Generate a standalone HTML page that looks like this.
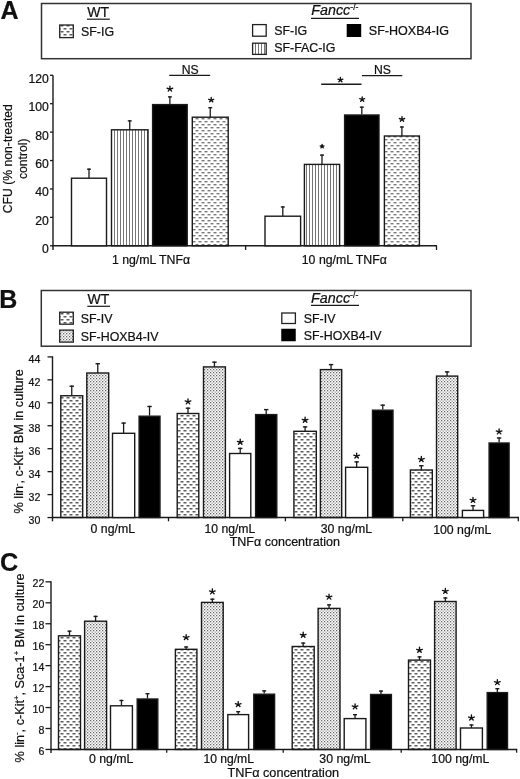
<!DOCTYPE html><html><head><meta charset="utf-8"><style>html,body{margin:0;padding:0;background:#fff;width:520px;height:779px;overflow:hidden}svg{display:block;filter:grayscale(1)}text{font-family:"Liberation Sans",sans-serif;fill:#111;stroke:#111;stroke-width:0.22px}</style></head><body>
<svg width="520" height="779" viewBox="0 0 520 779">
<defs>
<pattern id="dash" width="6" height="6" patternUnits="userSpaceOnUse" x="0" y="0">
<rect x="0.5" y="1" width="3" height="1.5" fill="#5e5e5e"/><rect x="3.5" y="4" width="3" height="1.5" fill="#5e5e5e"/><rect x="-2.5" y="4" width="3" height="1.5" fill="#5e5e5e"/>
</pattern>
<pattern id="dashA" width="6" height="6" patternUnits="userSpaceOnUse" x="0" y="0">
<rect x="0.5" y="1" width="3" height="1.4" fill="#7a7a7a"/><rect x="3.5" y="4" width="3" height="1.4" fill="#7a7a7a"/><rect x="-2.5" y="4" width="3" height="1.4" fill="#7a7a7a"/>
</pattern>
<pattern id="vs" width="3" height="3" patternUnits="userSpaceOnUse">
<rect x="0" y="0" width="1" height="3" fill="#777"/>
</pattern>
<pattern id="stip" width="3" height="3" patternUnits="userSpaceOnUse">
<rect x="0" y="0" width="1.3" height="1.3" fill="#666"/><rect x="1.5" y="1.5" width="1.3" height="1.3" fill="#959595"/>
</pattern>
</defs>
<rect width="520" height="779" fill="#fff"/>
<text x="0.4" y="19.2" font-size="25" text-anchor="start" font-weight="bold">A</text>
<rect x="41.5" y="3.5" width="429.5" height="55.2" fill="none" stroke="#333" stroke-width="1.5"/>
<text x="87.3" y="16.9" font-size="14" text-anchor="start" >WT</text>
<line x1="87" y1="19.2" x2="109.8" y2="19.2" stroke="#1a1a1a" stroke-width="1.2"/>
<rect x="59.7" y="25" width="13.6" height="12.6" fill="url(#dash)" stroke="#222" stroke-width="1.3"/>
<text x="81" y="36.2" font-size="12.4" text-anchor="start" >SF-IG</text>
<text x="311.3" y="15.3" font-size="14.3" text-anchor="start" ><tspan font-style="italic">Fancc</tspan><tspan font-size="8.8" dy="-5.2">-/-</tspan></text>
<line x1="311" y1="18.3" x2="359" y2="18.3" stroke="#1a1a1a" stroke-width="1.2"/>
<rect x="252.6" y="24.6" width="13.6" height="11.6" fill="#fff" stroke="#222" stroke-width="1.3"/>
<text x="274.2" y="34.8" font-size="12.4" text-anchor="start" >SF-IG</text>
<rect x="252.6" y="43.2" width="13.6" height="11.2" fill="url(#vs)" stroke="#222" stroke-width="1.3"/>
<text x="274.2" y="52.4" font-size="12.4" text-anchor="start" >SF-FAC-IG</text>
<rect x="346.7" y="24" width="14.5" height="13" fill="#000"/>
<text x="368.8" y="35" font-size="12.55" text-anchor="start" >SF-HOXB4-IG</text>
<line x1="53" y1="75.2" x2="53" y2="250" stroke="#1a1a1a" stroke-width="1.4"/>
<line x1="52.3" y1="245.8" x2="437" y2="245.8" stroke="#1a1a1a" stroke-width="1.4"/>
<line x1="50" y1="245.8" x2="53" y2="245.8" stroke="#1a1a1a" stroke-width="1.3"/>
<text x="48.9" y="253.20000000000002" font-size="12.2" text-anchor="end" >0</text>
<line x1="50" y1="217.38" x2="53" y2="217.38" stroke="#1a1a1a" stroke-width="1.3"/>
<text x="48.9" y="224.78" font-size="12.2" text-anchor="end" >20</text>
<line x1="50" y1="188.96" x2="53" y2="188.96" stroke="#1a1a1a" stroke-width="1.3"/>
<text x="48.9" y="196.36" font-size="12.2" text-anchor="end" >40</text>
<line x1="50" y1="160.54000000000002" x2="53" y2="160.54000000000002" stroke="#1a1a1a" stroke-width="1.3"/>
<text x="48.9" y="167.94000000000003" font-size="12.2" text-anchor="end" >60</text>
<line x1="50" y1="132.12" x2="53" y2="132.12" stroke="#1a1a1a" stroke-width="1.3"/>
<text x="48.9" y="139.52" font-size="12.2" text-anchor="end" >80</text>
<line x1="50" y1="103.69999999999999" x2="53" y2="103.69999999999999" stroke="#1a1a1a" stroke-width="1.3"/>
<text x="48.9" y="111.1" font-size="12.2" text-anchor="end" >100</text>
<line x1="50" y1="75.28" x2="53" y2="75.28" stroke="#1a1a1a" stroke-width="1.3"/>
<text x="48.9" y="82.68" font-size="12.2" text-anchor="end" >120</text>
<line x1="245.6" y1="245.8" x2="245.6" y2="250" stroke="#1a1a1a" stroke-width="1.3"/>
<line x1="436.5" y1="245.8" x2="436.5" y2="250" stroke="#1a1a1a" stroke-width="1.3"/>
<rect x="71.50" y="178.20" width="35.00" height="67.60" fill="#fff" stroke="#1a1a1a" stroke-width="1.4"/>
<line x1="89.0" y1="168.5" x2="89.0" y2="178.2" stroke="#1a1a1a" stroke-width="1.3"/>
<line x1="87.1" y1="169.2" x2="90.9" y2="169.2" stroke="#1a1a1a" stroke-width="1.4"/>
<rect x="111.50" y="129.80" width="36.50" height="116.00" fill="url(#vs)" stroke="#1a1a1a" stroke-width="1.4"/>
<line x1="129.75" y1="120.2" x2="129.75" y2="129.8" stroke="#1a1a1a" stroke-width="1.3"/>
<line x1="127.8" y1="120.9" x2="131.7" y2="120.9" stroke="#1a1a1a" stroke-width="1.4"/>
<rect x="152.60" y="104.60" width="34.60" height="141.20" fill="#000" stroke="#1a1a1a" stroke-width="1.4"/>
<line x1="169.9" y1="96.2" x2="169.9" y2="104" stroke="#1a1a1a" stroke-width="1.3"/>
<line x1="167.95000000000002" y1="96.9" x2="171.85" y2="96.9" stroke="#1a1a1a" stroke-width="1.4"/>
<path d="M169.90,89.16L169.90,86.25M169.90,89.16L172.66,88.26M169.90,89.16L171.60,91.08M169.90,89.16L168.20,91.08M169.90,89.16L167.14,88.26" stroke="#111" stroke-width="1.35" stroke-linecap="round" fill="none"/>
<rect x="192.30" y="117.20" width="35.90" height="128.60" fill="url(#dashA)" stroke="#1a1a1a" stroke-width="1.4"/>
<line x1="210.25" y1="107" x2="210.25" y2="117.2" stroke="#1a1a1a" stroke-width="1.3"/>
<line x1="208.3" y1="107.7" x2="212.2" y2="107.7" stroke="#1a1a1a" stroke-width="1.4"/>
<path d="M211.20,100.07L211.20,97.47M211.20,100.07L213.67,99.27M211.20,100.07L212.73,101.79M211.20,100.07L209.67,101.79M211.20,100.07L208.73,99.27" stroke="#111" stroke-width="1.35" stroke-linecap="round" fill="none"/>
<rect x="265.00" y="216.20" width="35.60" height="29.60" fill="#fff" stroke="#1a1a1a" stroke-width="1.4"/>
<line x1="282.8" y1="206.3" x2="282.8" y2="216.2" stroke="#1a1a1a" stroke-width="1.3"/>
<line x1="280.85" y1="207.0" x2="284.75" y2="207.0" stroke="#1a1a1a" stroke-width="1.4"/>
<rect x="304.40" y="164.40" width="35.20" height="81.40" fill="url(#vs)" stroke="#1a1a1a" stroke-width="1.4"/>
<line x1="322.0" y1="154.4" x2="322.0" y2="164.4" stroke="#1a1a1a" stroke-width="1.3"/>
<line x1="320.05" y1="155.1" x2="323.95" y2="155.1" stroke="#1a1a1a" stroke-width="1.4"/>
<path d="M322.10,146.50L322.10,144.50M322.10,146.50L324.00,145.88M322.10,146.50L323.28,147.83M322.10,146.50L320.92,147.83M322.10,146.50L320.20,145.88" stroke="#111" stroke-width="1.35" stroke-linecap="round" fill="none"/>
<rect x="344.60" y="115.00" width="34.40" height="130.80" fill="#000" stroke="#1a1a1a" stroke-width="1.4"/>
<line x1="361.8" y1="106.5" x2="361.8" y2="114.4" stroke="#1a1a1a" stroke-width="1.3"/>
<line x1="359.85" y1="107.2" x2="363.75" y2="107.2" stroke="#1a1a1a" stroke-width="1.4"/>
<path d="M362.20,99.47L362.20,96.87M362.20,99.47L364.67,98.67M362.20,99.47L363.73,101.19M362.20,99.47L360.67,101.19M362.20,99.47L359.73,98.67" stroke="#111" stroke-width="1.35" stroke-linecap="round" fill="none"/>
<rect x="384.40" y="136.00" width="35.00" height="109.80" fill="url(#dashA)" stroke="#1a1a1a" stroke-width="1.4"/>
<line x1="401.9" y1="126.3" x2="401.9" y2="136" stroke="#1a1a1a" stroke-width="1.3"/>
<line x1="399.95" y1="127.0" x2="403.84999999999997" y2="127.0" stroke="#1a1a1a" stroke-width="1.4"/>
<path d="M402.00,119.36L402.00,116.56M402.00,119.36L404.66,118.49M402.00,119.36L403.65,121.22M402.00,119.36L400.35,121.22M402.00,119.36L399.34,118.49" stroke="#111" stroke-width="1.35" stroke-linecap="round" fill="none"/>
<line x1="169.2" y1="75.4" x2="210.2" y2="75.4" stroke="#1a1a1a" stroke-width="1.4"/>
<text x="190.2" y="73.8" font-size="12.2" text-anchor="middle" >NS</text>
<line x1="321.2" y1="84.2" x2="361.5" y2="84.2" stroke="#1a1a1a" stroke-width="1.4"/>
<path d="M340.40,79.97L340.40,77.37M340.40,79.97L342.87,79.17M340.40,79.97L341.93,81.69M340.40,79.97L338.87,81.69M340.40,79.97L337.93,79.17" stroke="#111" stroke-width="1.35" stroke-linecap="round" fill="none"/>
<line x1="362" y1="75.6" x2="402.3" y2="75.6" stroke="#1a1a1a" stroke-width="1.4"/>
<text x="382.5" y="73.8" font-size="12.2" text-anchor="middle" >NS</text>
<text x="151" y="264.2" font-size="12.3" text-anchor="middle" >1 ng/mL TNFα</text>
<text x="344.3" y="264.2" font-size="12.3" text-anchor="middle" >10 ng/mL TNFα</text>
<text transform="translate(12.2,158.7) rotate(-90)" font-size="12.2" text-anchor="middle">CFU (% non-treated</text>
<text transform="translate(26.8,158.8) rotate(-90)" font-size="12.2" text-anchor="middle">control)</text>
<text x="-0.8" y="307.6" font-size="25" text-anchor="start" font-weight="bold">B</text>
<rect x="41.3" y="290.5" width="429.7" height="55.7" fill="none" stroke="#333" stroke-width="1.5"/>
<text x="87.5" y="303.75" font-size="14" text-anchor="start" >WT</text>
<line x1="87.3" y1="306.3" x2="110" y2="306.3" stroke="#1a1a1a" stroke-width="1.2"/>
<rect x="59.7" y="312.2" width="13.6" height="12" fill="url(#dash)" stroke="#222" stroke-width="1.3"/>
<text x="80.75" y="323.25" font-size="12.4" text-anchor="start" >SF-IV</text>
<rect x="59.7" y="330.1" width="13.6" height="12" fill="url(#stip)" stroke="#222" stroke-width="1.3"/>
<text x="80.75" y="340.5" font-size="12.4" text-anchor="start" >SF-HOXB4-IV</text>
<text x="311.1" y="303.1" font-size="14.3" text-anchor="start" ><tspan font-style="italic">Fancc</tspan><tspan font-size="8.8" dy="-5.2">-/-</tspan></text>
<line x1="311" y1="305.3" x2="359" y2="305.3" stroke="#1a1a1a" stroke-width="1.2"/>
<rect x="281.8" y="313" width="13.6" height="10.5" fill="#fff" stroke="#222" stroke-width="1.3"/>
<text x="303.75" y="322.5" font-size="12.4" text-anchor="start" >SF-IV</text>
<rect x="281.25" y="328.75" width="14.5" height="12.5" fill="#000"/>
<text x="303.75" y="340" font-size="12.4" text-anchor="start" >SF-HOXB4-IV</text>
<line x1="52.5" y1="356.3" x2="52.5" y2="521.3" stroke="#1a1a1a" stroke-width="1.4"/>
<line x1="51.8" y1="517.55" x2="519" y2="517.55" stroke="#1a1a1a" stroke-width="1.4"/>
<line x1="47.5" y1="517.55" x2="52.5" y2="517.55" stroke="#1a1a1a" stroke-width="1.3"/>
<text x="40.3" y="523.8499999999999" font-size="10.6" text-anchor="end" >30</text>
<line x1="47.5" y1="494.59999999999997" x2="52.5" y2="494.59999999999997" stroke="#1a1a1a" stroke-width="1.3"/>
<text x="40.3" y="500.9" font-size="10.6" text-anchor="end" >32</text>
<line x1="47.5" y1="471.65" x2="52.5" y2="471.65" stroke="#1a1a1a" stroke-width="1.3"/>
<text x="40.3" y="477.95" font-size="10.6" text-anchor="end" >34</text>
<line x1="47.5" y1="448.69999999999993" x2="52.5" y2="448.69999999999993" stroke="#1a1a1a" stroke-width="1.3"/>
<text x="40.3" y="454.99999999999994" font-size="10.6" text-anchor="end" >36</text>
<line x1="47.5" y1="425.74999999999994" x2="52.5" y2="425.74999999999994" stroke="#1a1a1a" stroke-width="1.3"/>
<text x="40.3" y="432.04999999999995" font-size="10.6" text-anchor="end" >38</text>
<line x1="47.5" y1="402.79999999999995" x2="52.5" y2="402.79999999999995" stroke="#1a1a1a" stroke-width="1.3"/>
<text x="40.3" y="409.09999999999997" font-size="10.6" text-anchor="end" >40</text>
<line x1="47.5" y1="379.84999999999997" x2="52.5" y2="379.84999999999997" stroke="#1a1a1a" stroke-width="1.3"/>
<text x="40.3" y="386.15" font-size="10.6" text-anchor="end" >42</text>
<line x1="47.5" y1="356.9" x2="52.5" y2="356.9" stroke="#1a1a1a" stroke-width="1.3"/>
<text x="40.3" y="363.2" font-size="10.6" text-anchor="end" >44</text>
<line x1="168.5" y1="517.55" x2="168.5" y2="521.3" stroke="#1a1a1a" stroke-width="1.3"/>
<line x1="285.4" y1="517.55" x2="285.4" y2="521.3" stroke="#1a1a1a" stroke-width="1.3"/>
<line x1="402.8" y1="517.55" x2="402.8" y2="521.3" stroke="#1a1a1a" stroke-width="1.3"/>
<line x1="518.3" y1="517.55" x2="518.3" y2="521.3" stroke="#1a1a1a" stroke-width="1.3"/>
<rect x="60.80" y="395.75" width="21.90" height="121.80" fill="url(#dash)" stroke="#1a1a1a" stroke-width="1.4"/>
<line x1="71.75" y1="385.5" x2="71.75" y2="395.75" stroke="#1a1a1a" stroke-width="1.3"/>
<line x1="69.55" y1="386.2" x2="73.95" y2="386.2" stroke="#1a1a1a" stroke-width="1.4"/>
<rect x="86.80" y="373.00" width="21.90" height="144.55" fill="url(#stip)" stroke="#1a1a1a" stroke-width="1.4"/>
<line x1="97.75" y1="363" x2="97.75" y2="373" stroke="#1a1a1a" stroke-width="1.3"/>
<line x1="95.55" y1="363.7" x2="99.95" y2="363.7" stroke="#1a1a1a" stroke-width="1.4"/>
<rect x="112.50" y="433.30" width="22.20" height="84.25" fill="#fff" stroke="#1a1a1a" stroke-width="1.4"/>
<line x1="123.6" y1="422.4" x2="123.6" y2="433.3" stroke="#1a1a1a" stroke-width="1.3"/>
<line x1="121.39999999999999" y1="423.09999999999997" x2="125.8" y2="423.09999999999997" stroke="#1a1a1a" stroke-width="1.4"/>
<rect x="139.10" y="416.20" width="20.90" height="101.35" fill="#000" stroke="#1a1a1a" stroke-width="1.4"/>
<line x1="149.55" y1="405.8" x2="149.55" y2="415.6" stroke="#1a1a1a" stroke-width="1.3"/>
<line x1="147.35000000000002" y1="406.5" x2="151.75" y2="406.5" stroke="#1a1a1a" stroke-width="1.4"/>
<rect x="177.20" y="413.50" width="21.60" height="104.05" fill="url(#dash)" stroke="#1a1a1a" stroke-width="1.4"/>
<line x1="188.0" y1="407.5" x2="188.0" y2="413.5" stroke="#1a1a1a" stroke-width="1.3"/>
<line x1="185.8" y1="408.2" x2="190.2" y2="408.2" stroke="#1a1a1a" stroke-width="1.4"/>
<path d="M188.00,401.85L188.00,398.85M188.00,401.85L190.85,400.92M188.00,401.85L189.76,403.84M188.00,401.85L186.24,403.84M188.00,401.85L185.15,400.92" stroke="#111" stroke-width="1.35" stroke-linecap="round" fill="none"/>
<rect x="203.50" y="366.90" width="21.90" height="150.65" fill="url(#stip)" stroke="#1a1a1a" stroke-width="1.4"/>
<line x1="214.45" y1="361.5" x2="214.45" y2="366.9" stroke="#1a1a1a" stroke-width="1.3"/>
<line x1="212.25" y1="362.2" x2="216.64999999999998" y2="362.2" stroke="#1a1a1a" stroke-width="1.4"/>
<rect x="229.60" y="453.50" width="21.20" height="64.05" fill="#fff" stroke="#1a1a1a" stroke-width="1.4"/>
<line x1="240.2" y1="447.7" x2="240.2" y2="453.5" stroke="#1a1a1a" stroke-width="1.3"/>
<line x1="238.0" y1="448.4" x2="242.39999999999998" y2="448.4" stroke="#1a1a1a" stroke-width="1.4"/>
<path d="M240.20,442.25L240.20,439.25M240.20,442.25L243.05,441.32M240.20,442.25L241.96,444.24M240.20,442.25L238.44,444.24M240.20,442.25L237.35,441.32" stroke="#111" stroke-width="1.35" stroke-linecap="round" fill="none"/>
<rect x="255.60" y="414.60" width="21.20" height="102.95" fill="#000" stroke="#1a1a1a" stroke-width="1.4"/>
<line x1="266.2" y1="408.9" x2="266.2" y2="414" stroke="#1a1a1a" stroke-width="1.3"/>
<line x1="264.0" y1="409.59999999999997" x2="268.4" y2="409.59999999999997" stroke="#1a1a1a" stroke-width="1.4"/>
<rect x="293.90" y="431.30" width="22.40" height="86.25" fill="url(#dash)" stroke="#1a1a1a" stroke-width="1.4"/>
<line x1="305.1" y1="426.2" x2="305.1" y2="431.3" stroke="#1a1a1a" stroke-width="1.3"/>
<line x1="302.90000000000003" y1="426.9" x2="307.3" y2="426.9" stroke="#1a1a1a" stroke-width="1.4"/>
<path d="M305.10,420.25L305.10,417.25M305.10,420.25L307.95,419.32M305.10,420.25L306.86,422.24M305.10,420.25L303.34,422.24M305.10,420.25L302.25,419.32" stroke="#111" stroke-width="1.35" stroke-linecap="round" fill="none"/>
<rect x="320.40" y="369.60" width="21.30" height="147.95" fill="url(#stip)" stroke="#1a1a1a" stroke-width="1.4"/>
<line x1="331.04999999999995" y1="363.9" x2="331.04999999999995" y2="369.6" stroke="#1a1a1a" stroke-width="1.3"/>
<line x1="328.84999999999997" y1="364.59999999999997" x2="333.24999999999994" y2="364.59999999999997" stroke="#1a1a1a" stroke-width="1.4"/>
<rect x="345.60" y="467.30" width="22.10" height="50.25" fill="#fff" stroke="#1a1a1a" stroke-width="1.4"/>
<line x1="356.65" y1="461.2" x2="356.65" y2="467.3" stroke="#1a1a1a" stroke-width="1.3"/>
<line x1="354.45" y1="461.9" x2="358.84999999999997" y2="461.9" stroke="#1a1a1a" stroke-width="1.4"/>
<path d="M356.65,456.05L356.65,453.05M356.65,456.05L359.50,455.12M356.65,456.05L358.41,458.04M356.65,456.05L354.89,458.04M356.65,456.05L353.80,455.12" stroke="#111" stroke-width="1.35" stroke-linecap="round" fill="none"/>
<rect x="372.50" y="410.20" width="20.50" height="107.35" fill="#000" stroke="#1a1a1a" stroke-width="1.4"/>
<line x1="382.75" y1="404.5" x2="382.75" y2="409.6" stroke="#1a1a1a" stroke-width="1.3"/>
<line x1="380.55" y1="405.2" x2="384.95" y2="405.2" stroke="#1a1a1a" stroke-width="1.4"/>
<rect x="410.40" y="470.00" width="21.90" height="47.55" fill="url(#dash)" stroke="#1a1a1a" stroke-width="1.4"/>
<line x1="421.35" y1="465" x2="421.35" y2="470" stroke="#1a1a1a" stroke-width="1.3"/>
<line x1="419.15000000000003" y1="465.7" x2="423.55" y2="465.7" stroke="#1a1a1a" stroke-width="1.4"/>
<path d="M421.35,459.45L421.35,456.45M421.35,459.45L424.20,458.52M421.35,459.45L423.11,461.44M421.35,459.45L419.59,461.44M421.35,459.45L418.50,458.52" stroke="#111" stroke-width="1.35" stroke-linecap="round" fill="none"/>
<rect x="436.50" y="376.10" width="21.20" height="141.45" fill="url(#stip)" stroke="#1a1a1a" stroke-width="1.4"/>
<line x1="447.1" y1="371.2" x2="447.1" y2="376.1" stroke="#1a1a1a" stroke-width="1.3"/>
<line x1="444.90000000000003" y1="371.9" x2="449.3" y2="371.9" stroke="#1a1a1a" stroke-width="1.4"/>
<rect x="462.40" y="510.40" width="21.20" height="7.15" fill="#fff" stroke="#1a1a1a" stroke-width="1.4"/>
<line x1="473.0" y1="505.1" x2="473.0" y2="510.4" stroke="#1a1a1a" stroke-width="1.3"/>
<line x1="470.8" y1="505.8" x2="475.2" y2="505.8" stroke="#1a1a1a" stroke-width="1.4"/>
<path d="M473.00,500.35L473.00,497.35M473.00,500.35L475.85,499.42M473.00,500.35L474.76,502.34M473.00,500.35L471.24,502.34M473.00,500.35L470.15,499.42" stroke="#111" stroke-width="1.35" stroke-linecap="round" fill="none"/>
<rect x="489.10" y="443.00" width="20.00" height="74.55" fill="#000" stroke="#1a1a1a" stroke-width="1.4"/>
<line x1="499.1" y1="437.3" x2="499.1" y2="442.4" stroke="#1a1a1a" stroke-width="1.3"/>
<line x1="496.90000000000003" y1="438.0" x2="501.3" y2="438.0" stroke="#1a1a1a" stroke-width="1.4"/>
<path d="M499.10,431.85L499.10,428.85M499.10,431.85L501.95,430.92M499.10,431.85L500.86,433.84M499.10,431.85L497.34,433.84M499.10,431.85L496.25,430.92" stroke="#111" stroke-width="1.35" stroke-linecap="round" fill="none"/>
<text x="112.8" y="533.2" font-size="12.3" text-anchor="middle" >0 ng/mL</text>
<text x="229.9" y="533.1" font-size="12.2" text-anchor="middle" >10 ng/mL</text>
<text x="346.4" y="533.1" font-size="12.3" text-anchor="middle" >30 ng/mL</text>
<text x="462.2" y="533.6" font-size="12.3" text-anchor="middle" >100 ng/mL</text>
<text x="284.75" y="546.2" font-size="12.52" text-anchor="middle" >TNFα concentration</text>
<text transform="translate(23.2,441.3) rotate(-90)" font-size="12.7" text-anchor="middle">% lin<tspan font-size="7.5" dy="-4.5">-</tspan><tspan dy="4.5">, c-Kit</tspan><tspan font-size="7.5" dy="-4.5">+</tspan><tspan dy="4.5"> BM in culture</tspan></text>
<text x="0.1" y="570.6" font-size="25.3" text-anchor="start" font-weight="bold">C</text>
<line x1="51" y1="581.2" x2="51" y2="753" stroke="#1a1a1a" stroke-width="1.4"/>
<line x1="50.3" y1="749.45" x2="517.2" y2="749.45" stroke="#1a1a1a" stroke-width="1.4"/>
<line x1="45.5" y1="749.45" x2="51" y2="749.45" stroke="#1a1a1a" stroke-width="1.3"/>
<text x="44.4" y="754.95" font-size="10.6" text-anchor="end" >6</text>
<line x1="45.5" y1="728.5" x2="51" y2="728.5" stroke="#1a1a1a" stroke-width="1.3"/>
<text x="44.4" y="734.0" font-size="10.6" text-anchor="end" >8</text>
<line x1="45.5" y1="707.5500000000001" x2="51" y2="707.5500000000001" stroke="#1a1a1a" stroke-width="1.3"/>
<text x="44.4" y="713.0500000000001" font-size="10.6" text-anchor="end" >10</text>
<line x1="45.5" y1="686.6" x2="51" y2="686.6" stroke="#1a1a1a" stroke-width="1.3"/>
<text x="44.4" y="692.1" font-size="10.6" text-anchor="end" >12</text>
<line x1="45.5" y1="665.6500000000001" x2="51" y2="665.6500000000001" stroke="#1a1a1a" stroke-width="1.3"/>
<text x="44.4" y="671.1500000000001" font-size="10.6" text-anchor="end" >14</text>
<line x1="45.5" y1="644.7" x2="51" y2="644.7" stroke="#1a1a1a" stroke-width="1.3"/>
<text x="44.4" y="650.2" font-size="10.6" text-anchor="end" >16</text>
<line x1="45.5" y1="623.75" x2="51" y2="623.75" stroke="#1a1a1a" stroke-width="1.3"/>
<text x="44.4" y="629.25" font-size="10.6" text-anchor="end" >18</text>
<line x1="45.5" y1="602.8000000000001" x2="51" y2="602.8000000000001" stroke="#1a1a1a" stroke-width="1.3"/>
<text x="44.4" y="608.3000000000001" font-size="10.6" text-anchor="end" >20</text>
<line x1="45.5" y1="581.85" x2="51" y2="581.85" stroke="#1a1a1a" stroke-width="1.3"/>
<text x="44.4" y="587.35" font-size="10.6" text-anchor="end" >22</text>
<line x1="166.7" y1="749.45" x2="166.7" y2="752.7" stroke="#1a1a1a" stroke-width="1.3"/>
<line x1="283.2" y1="749.45" x2="283.2" y2="752.7" stroke="#1a1a1a" stroke-width="1.3"/>
<line x1="401.2" y1="749.45" x2="401.2" y2="752.7" stroke="#1a1a1a" stroke-width="1.3"/>
<line x1="516.6" y1="749.45" x2="516.6" y2="752.7" stroke="#1a1a1a" stroke-width="1.3"/>
<rect x="58.50" y="635.80" width="22.00" height="113.65" fill="url(#dash)" stroke="#1a1a1a" stroke-width="1.4"/>
<line x1="69.5" y1="630.5" x2="69.5" y2="635.8" stroke="#1a1a1a" stroke-width="1.3"/>
<line x1="67.5" y1="631.2" x2="71.5" y2="631.2" stroke="#1a1a1a" stroke-width="1.4"/>
<rect x="84.60" y="621.20" width="22.00" height="128.25" fill="url(#stip)" stroke="#1a1a1a" stroke-width="1.4"/>
<line x1="95.6" y1="615.7" x2="95.6" y2="621.2" stroke="#1a1a1a" stroke-width="1.3"/>
<line x1="93.6" y1="616.4000000000001" x2="97.6" y2="616.4000000000001" stroke="#1a1a1a" stroke-width="1.4"/>
<rect x="110.50" y="705.80" width="21.90" height="43.65" fill="#fff" stroke="#1a1a1a" stroke-width="1.4"/>
<line x1="121.45" y1="699.8" x2="121.45" y2="705.8" stroke="#1a1a1a" stroke-width="1.3"/>
<line x1="119.45" y1="700.5" x2="123.45" y2="700.5" stroke="#1a1a1a" stroke-width="1.4"/>
<rect x="137.20" y="699.00" width="20.60" height="50.45" fill="#000" stroke="#1a1a1a" stroke-width="1.4"/>
<line x1="147.5" y1="693" x2="147.5" y2="698.4" stroke="#1a1a1a" stroke-width="1.3"/>
<line x1="145.5" y1="693.7" x2="149.5" y2="693.7" stroke="#1a1a1a" stroke-width="1.4"/>
<rect x="175.40" y="649.30" width="21.50" height="100.15" fill="url(#dash)" stroke="#1a1a1a" stroke-width="1.4"/>
<line x1="186.15" y1="646.3" x2="186.15" y2="649.3" stroke="#1a1a1a" stroke-width="1.3"/>
<line x1="184.15" y1="647.0" x2="188.15" y2="647.0" stroke="#1a1a1a" stroke-width="1.4"/>
<path d="M186.15,637.55L186.15,634.55M186.15,637.55L189.00,636.62M186.15,637.55L187.91,639.54M186.15,637.55L184.39,639.54M186.15,637.55L183.30,636.62" stroke="#111" stroke-width="1.35" stroke-linecap="round" fill="none"/>
<rect x="201.50" y="602.40" width="21.70" height="147.05" fill="url(#stip)" stroke="#1a1a1a" stroke-width="1.4"/>
<line x1="212.35" y1="598.5" x2="212.35" y2="602.4" stroke="#1a1a1a" stroke-width="1.3"/>
<line x1="210.35" y1="599.2" x2="214.35" y2="599.2" stroke="#1a1a1a" stroke-width="1.4"/>
<path d="M212.35,591.85L212.35,588.85M212.35,591.85L215.20,590.92M212.35,591.85L214.11,593.84M212.35,591.85L210.59,593.84M212.35,591.85L209.50,590.92" stroke="#111" stroke-width="1.35" stroke-linecap="round" fill="none"/>
<rect x="227.80" y="714.60" width="20.80" height="34.85" fill="#fff" stroke="#1a1a1a" stroke-width="1.4"/>
<line x1="238.2" y1="711" x2="238.2" y2="714.6" stroke="#1a1a1a" stroke-width="1.3"/>
<line x1="236.2" y1="711.7" x2="240.2" y2="711.7" stroke="#1a1a1a" stroke-width="1.4"/>
<path d="M238.20,704.55L238.20,701.55M238.20,704.55L241.05,703.62M238.20,704.55L239.96,706.54M238.20,704.55L236.44,706.54M238.20,704.55L235.35,703.62" stroke="#111" stroke-width="1.35" stroke-linecap="round" fill="none"/>
<rect x="253.80" y="694.20" width="20.80" height="55.25" fill="#000" stroke="#1a1a1a" stroke-width="1.4"/>
<line x1="264.2" y1="690.2" x2="264.2" y2="693.6" stroke="#1a1a1a" stroke-width="1.3"/>
<line x1="262.2" y1="690.9000000000001" x2="266.2" y2="690.9000000000001" stroke="#1a1a1a" stroke-width="1.4"/>
<rect x="292.20" y="646.50" width="22.00" height="102.95" fill="url(#dash)" stroke="#1a1a1a" stroke-width="1.4"/>
<line x1="303.2" y1="642.4" x2="303.2" y2="646.5" stroke="#1a1a1a" stroke-width="1.3"/>
<line x1="301.2" y1="643.1" x2="305.2" y2="643.1" stroke="#1a1a1a" stroke-width="1.4"/>
<path d="M303.20,635.25L303.20,632.25M303.20,635.25L306.05,634.32M303.20,635.25L304.96,637.24M303.20,635.25L301.44,637.24M303.20,635.25L300.35,634.32" stroke="#111" stroke-width="1.35" stroke-linecap="round" fill="none"/>
<rect x="318.10" y="608.40" width="21.90" height="141.05" fill="url(#stip)" stroke="#1a1a1a" stroke-width="1.4"/>
<line x1="329.05" y1="604.2" x2="329.05" y2="608.4" stroke="#1a1a1a" stroke-width="1.3"/>
<line x1="327.05" y1="604.9000000000001" x2="331.05" y2="604.9000000000001" stroke="#1a1a1a" stroke-width="1.4"/>
<path d="M329.05,597.15L329.05,594.15M329.05,597.15L331.90,596.22M329.05,597.15L330.81,599.14M329.05,597.15L327.29,599.14M329.05,597.15L326.20,596.22" stroke="#111" stroke-width="1.35" stroke-linecap="round" fill="none"/>
<rect x="344.20" y="718.60" width="21.70" height="30.85" fill="#fff" stroke="#1a1a1a" stroke-width="1.4"/>
<line x1="355.04999999999995" y1="714" x2="355.04999999999995" y2="718.6" stroke="#1a1a1a" stroke-width="1.3"/>
<line x1="353.04999999999995" y1="714.7" x2="357.04999999999995" y2="714.7" stroke="#1a1a1a" stroke-width="1.4"/>
<path d="M355.05,706.85L355.05,703.85M355.05,706.85L357.90,705.92M355.05,706.85L356.81,708.84M355.05,706.85L353.29,708.84M355.05,706.85L352.20,705.92" stroke="#111" stroke-width="1.35" stroke-linecap="round" fill="none"/>
<rect x="370.60" y="694.50" width="20.80" height="54.95" fill="#000" stroke="#1a1a1a" stroke-width="1.4"/>
<line x1="381.0" y1="690.4" x2="381.0" y2="693.9" stroke="#1a1a1a" stroke-width="1.3"/>
<line x1="379.0" y1="691.1" x2="383.0" y2="691.1" stroke="#1a1a1a" stroke-width="1.4"/>
<rect x="408.50" y="660.10" width="22.00" height="89.35" fill="url(#dash)" stroke="#1a1a1a" stroke-width="1.4"/>
<line x1="419.5" y1="656.2" x2="419.5" y2="660.1" stroke="#1a1a1a" stroke-width="1.3"/>
<line x1="417.5" y1="656.9000000000001" x2="421.5" y2="656.9000000000001" stroke="#1a1a1a" stroke-width="1.4"/>
<path d="M419.50,650.25L419.50,647.25M419.50,650.25L422.35,649.32M419.50,650.25L421.26,652.24M419.50,650.25L417.74,652.24M419.50,650.25L416.65,649.32" stroke="#111" stroke-width="1.35" stroke-linecap="round" fill="none"/>
<rect x="434.60" y="601.50" width="21.50" height="147.95" fill="url(#stip)" stroke="#1a1a1a" stroke-width="1.4"/>
<line x1="445.35" y1="597.3" x2="445.35" y2="601.5" stroke="#1a1a1a" stroke-width="1.3"/>
<line x1="443.35" y1="598.0" x2="447.35" y2="598.0" stroke="#1a1a1a" stroke-width="1.4"/>
<path d="M445.35,591.35L445.35,588.35M445.35,591.35L448.20,590.42M445.35,591.35L447.11,593.34M445.35,591.35L443.59,593.34M445.35,591.35L442.50,590.42" stroke="#111" stroke-width="1.35" stroke-linecap="round" fill="none"/>
<rect x="460.50" y="728.00" width="21.90" height="21.45" fill="#fff" stroke="#1a1a1a" stroke-width="1.4"/>
<line x1="471.45" y1="724.3" x2="471.45" y2="728" stroke="#1a1a1a" stroke-width="1.3"/>
<line x1="469.45" y1="725.0" x2="473.45" y2="725.0" stroke="#1a1a1a" stroke-width="1.4"/>
<path d="M471.45,717.95L471.45,714.95M471.45,717.95L474.30,717.02M471.45,717.95L473.21,719.94M471.45,717.95L469.69,719.94M471.45,717.95L468.60,717.02" stroke="#111" stroke-width="1.35" stroke-linecap="round" fill="none"/>
<rect x="487.20" y="692.60" width="20.30" height="56.85" fill="#000" stroke="#1a1a1a" stroke-width="1.4"/>
<line x1="497.35" y1="688" x2="497.35" y2="692" stroke="#1a1a1a" stroke-width="1.3"/>
<line x1="495.35" y1="688.7" x2="499.35" y2="688.7" stroke="#1a1a1a" stroke-width="1.4"/>
<path d="M497.35,682.65L497.35,679.65M497.35,682.65L500.20,681.72M497.35,682.65L499.11,684.64M497.35,682.65L495.59,684.64M497.35,682.65L494.50,681.72" stroke="#111" stroke-width="1.35" stroke-linecap="round" fill="none"/>
<text x="111.2" y="762.8" font-size="12.3" text-anchor="middle" >0 ng/mL</text>
<text x="228.7" y="762.7" font-size="12.1" text-anchor="middle" >10 ng/mL</text>
<text x="345" y="762.7" font-size="12.3" text-anchor="middle" >30 ng/mL</text>
<text x="460.4" y="763.2" font-size="12.3" text-anchor="middle" >100 ng/mL</text>
<text x="283.3" y="776.6" font-size="12.67" text-anchor="middle" >TNFα concentration</text>
<text transform="translate(23.6,667.9) rotate(-90)" font-size="12.7" text-anchor="middle">% lin<tspan font-size="7.5" dy="-4.5">-</tspan><tspan dy="4.5">, c-Kit</tspan><tspan font-size="7.5" dy="-4.5">+</tspan><tspan dy="4.5">, Sca-1</tspan><tspan font-size="7.5" dy="-4.5">+</tspan><tspan dy="4.5"> BM in culture</tspan></text>
</svg></body></html>
